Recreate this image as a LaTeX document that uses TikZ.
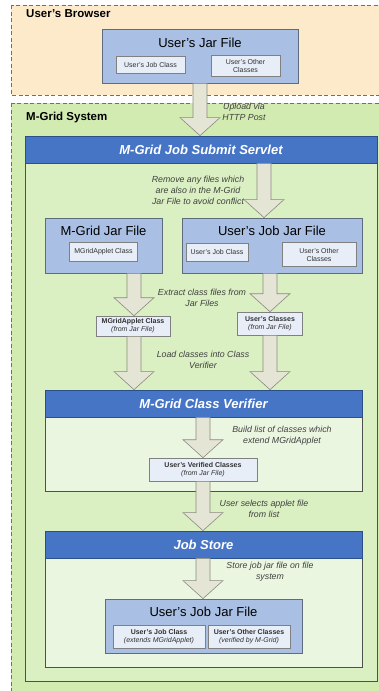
\documentclass[tikz,border=0pt]{standalone}
\usepackage{fontspec}
\setmainfont{Liberation Sans}
\usetikzlibrary{calc}
\definecolor{orangefill}{HTML}{FDEACB}
\definecolor{regionline}{HTML}{707070}
\definecolor{greenfill}{HTML}{D2EBB1}
\definecolor{outerfill}{HTML}{DAEFC2}
\definecolor{lowerfill}{HTML}{EBF6E0}
\definecolor{outerline}{HTML}{505050}
\definecolor{barfill}{HTML}{4775C6}
\definecolor{barline}{HTML}{2C4F8A}
\definecolor{jarfill}{HTML}{A9BFE3}
\definecolor{jarline}{HTML}{5F6C7E}
\definecolor{smallfill}{HTML}{E8EEF8}
\definecolor{smallline}{HTML}{808080}
\definecolor{arrowfill}{HTML}{E5E5D6}
\definecolor{arrowline}{HTML}{8A8A80}
\definecolor{notetext}{HTML}{404040}
\definecolor{darktext}{HTML}{303030}
\tikzset{
 regionbox/.style={draw=regionline, line width=0.8pt, dash pattern=on 4pt off 2.5pt},
 jarbox/.style={draw=jarline, fill=jarfill, line width=0.8pt, inner sep=0pt},
 jartitle/.style={font=\fontsize{13}{15}\selectfont, text=black, inner sep=0pt},
 smallbox/.style={draw=smallline, fill=smallfill, line width=0.6pt, inner sep=0pt, align=center, font=\fontsize{7}{8}\selectfont, text=darktext},
 barbox/.style={draw=barline, fill=barfill, line width=0.8pt, inner sep=0pt, font=\bfseries\itshape\fontsize{13}{15}\selectfont, text=white},
 note/.style={align=center, font=\itshape\fontsize{8.8}{11}\selectfont, text=notetext, inner sep=0pt},
 regionlabel/.style={font=\bfseries\fontsize{11.5}{13}\selectfont, anchor=west, inner sep=0pt},
 blk/.style={draw=arrowline, fill=arrowfill, line width=0.6pt, line join=miter},
}
\newcommand\blkarrow[3]{%
 \draw[blk] let \p1=(#2.south), \p2=(#3.north) in
 (#1pt-7pt,\y1) -- (#1pt-7pt,\y2+18pt) -- (#1pt-20pt,\y2+18pt) -- (#1pt,\y2)
 -- (#1pt+20pt,\y2+18pt) -- (#1pt+7pt,\y2+18pt) -- (#1pt+7pt,\y1) -- cycle;}
\begin{document}
\begin{tikzpicture}[x=1pt,y=-1pt]
\useasboundingbox (0,0) rectangle (379,691);
\begin{scope}
\clip (0,0) rectangle (379,691);
% regions
\fill[white] (0,0) rectangle (379,691);
\draw[regionbox, fill=orangefill] (11,5) rectangle (400,95);
\draw[regionbox, fill=greenfill] (11,103) rectangle (400,720);
\node[regionlabel] (browserlbl) at (26,14) {User's Browser};
\node[regionlabel] (mgridlbl) at (26,118) {M-Grid System};
% outer servlet box
\draw[draw=outerline, fill=outerfill, line width=0.8pt] (25,136) rectangle (377,681);
\node[barbox, minimum width=352pt, minimum height=27pt] (servlet) at (201,149.5) {M-Grid Job Submit Servlet};
% verifier box
\draw[draw=outerline, fill=lowerfill, line width=0.8pt] (45,390) rectangle (362,491);
\node[barbox, minimum width=317pt, minimum height=27pt] (verifier) at (203.5,403.5) {M-Grid Class Verifier};
% job store box
\draw[draw=outerline, fill=lowerfill, line width=0.8pt] (45,531) rectangle (362,667);
\node[barbox, minimum width=317pt, minimum height=27pt] (jobstore) at (203.5,544.5) {Job Store};

% user's jar file (browser)
\node[jarbox, minimum width=196pt, minimum height=54pt] (ujar) at (200,56) {};
\node[jartitle] (ujart) at (200,43) {User's Jar File};
\node[smallbox, minimum width=69pt, minimum height=17pt] (ujarjob) at (150.5,64.5) {User's Job Class};
\node[smallbox, minimum width=69pt, minimum height=21pt] (ujaroth) at (245.5,65.5) {User's Other\\Classes};

% M-Grid jar file
\node[jarbox, minimum width=117pt, minimum height=55pt] (mjar) at (103.5,245.5) {};
\node[jartitle] (mjart) at (103.5,231) {M-Grid Jar File};
\node[smallbox, minimum width=68pt, minimum height=19pt] (mjarcls) at (103.5,252) {MGridApplet Class};

% user's job jar file (servlet)
\node[jarbox, minimum width=180pt, minimum height=55pt] (ujj) at (272,245.5) {};
\node[jartitle] (ujjt) at (272,231) {User's Job Jar File};
\node[smallbox, minimum width=62pt, minimum height=18pt] (ujjjob) at (217,252) {User's Job Class};
\node[smallbox, minimum width=74pt, minimum height=24pt] (ujjoth) at (319,254.5) {User's Other\\Classes};

% extracted classes
\node[smallbox, minimum width=74pt, minimum height=20pt] (mac) at (133,326) {{\bfseries MGridApplet Class}\\{\itshape (from Jar File)}};
\node[smallbox, minimum width=65pt, minimum height=23pt] (uc) at (270,323.5) {{\bfseries User's Classes}\\{\itshape (from Jar File)}};

% verified classes
\node[smallbox, minimum width=108pt, minimum height=23pt] (uvc) at (203,469.5) {{\bfseries User's Verified Classes}\\{\itshape (from Jar File)}};

% final job jar file
\node[jarbox, minimum width=197pt, minimum height=54pt] (fjar) at (203.5,626) {};
\node[jartitle] (fjart) at (203.5,612) {User's Job Jar File};
\node[smallbox, minimum width=92pt, minimum height=23pt] (fjob) at (159,636.5) {{\bfseries User's Job Class}\\{\itshape (extends MGridApplet)}};
\node[smallbox, minimum width=82pt, minimum height=23pt] (foth) at (249,636.5) {{\bfseries User's Other Classes}\\{\itshape (verified by M-Grid)}};

% notes
\node[note] (n1) at (244,112) {Upload via\\HTTP Post};
\node[note] (n2) at (198,190) {Remove any files which\\are also in the M-Grid\\Jar File to avoid conflict};
\node[note] (n3) at (202,298) {Extract class files from\\Jar Files};
\node[note] (n4) at (203,359.5) {Load classes into Class\\Verifier};
\node[note] (n5) at (282,436) {Build list of classes which\\extend MGridApplet};
\node[note] (n6) at (264,509) {User selects applet file\\from list};
\node[note] (n7) at (270,572) {Store job jar file on file\\system};

% block arrows
\blkarrow{200}{ujar}{servlet}
\blkarrow{264}{servlet}{ujj}
\blkarrow{134}{mjar}{mac}
\blkarrow{270}{ujj}{uc}
\blkarrow{134}{mac}{verifier}
\blkarrow{270}{uc}{verifier}
\blkarrow{203}{verifier}{uvc}
\blkarrow{203}{uvc}{jobstore}
\blkarrow{203}{jobstore}{fjar}
\end{scope}
\end{tikzpicture}
\end{document}
